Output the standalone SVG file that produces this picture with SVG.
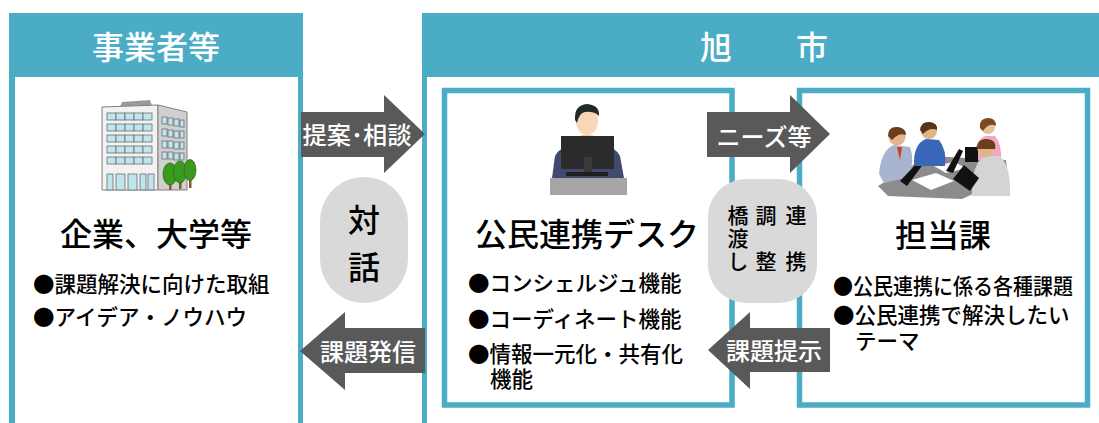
<svg xmlns="http://www.w3.org/2000/svg" width="1099" height="423" viewBox="0 0 1099 423">
  <style>
    text { font-family: "Noto Sans CJK JP", "Noto Sans", sans-serif; }
    .head { fill: #ffffff; font-size: 32px; font-weight: 500; }
    .title { fill: #000000; font-size: 32px; font-weight: 500; }
    .item { fill: #000000; font-size: 21.5px; font-weight: 500; }
    .arrow { fill: #595959; }
    .alabel { fill: #ffffff; font-size: 24px; font-weight: 500; }
    .pill { fill: #d9d9d9; }
    .plabel { fill: #000000; font-weight: 500; }
    .vert { writing-mode: vertical-rl; font-size: 21px; }
    .frame { fill: none; stroke: #4bacc6; stroke-width: 5.5; }
  </style>

  <rect width="1099" height="423" fill="#ffffff"/>

  <!-- 事業者等 column -->
  <g id="jigyosha">
    <rect x="9" y="13" width="294" height="420" fill="#4bacc6"/>
    <rect x="15" y="77" width="283" height="360" fill="#ffffff"/>
    <text class="head" x="156" y="59" text-anchor="middle">事業者等</text>
    <!-- office building -->
    <g id="building">
      <polygon points="122,102 150,100 152,106 120,107" fill="#9a9a9a"/>
      <polygon points="102,107 158,105 158,190 102,190" fill="#f2f2f2" stroke="#7f7f7f" stroke-width="1"/>
      <polygon points="158,105 187,112 187,190 158,190" fill="#d0d0d0" stroke="#7f7f7f" stroke-width="1"/>
      <g fill="#bfe6ee" stroke="#6d6d6d" stroke-width="0.8">
        <rect x="107" y="113" width="9" height="7"/><rect x="116" y="113" width="9" height="7"/><rect x="125" y="113" width="9" height="7"/><rect x="134" y="113" width="9" height="7"/><rect x="143" y="113" width="9" height="7"/>
        <rect x="107" y="124" width="9" height="7"/><rect x="116" y="124" width="9" height="7"/><rect x="125" y="124" width="9" height="7"/><rect x="134" y="124" width="9" height="7"/><rect x="143" y="124" width="9" height="7"/>
        <rect x="107" y="135" width="9" height="7"/><rect x="116" y="135" width="9" height="7"/><rect x="125" y="135" width="9" height="7"/><rect x="134" y="135" width="9" height="7"/><rect x="143" y="135" width="9" height="7"/>
        <rect x="107" y="146" width="9" height="7"/><rect x="116" y="146" width="9" height="7"/><rect x="125" y="146" width="9" height="7"/><rect x="134" y="146" width="9" height="7"/><rect x="143" y="146" width="9" height="7"/>
        <rect x="107" y="157" width="9" height="7"/><rect x="116" y="157" width="9" height="7"/><rect x="125" y="157" width="9" height="7"/><rect x="134" y="157" width="9" height="7"/><rect x="143" y="157" width="9" height="7"/>
        <rect x="107" y="174" width="6" height="16"/><rect x="116" y="174" width="9" height="16"/><rect x="128" y="174" width="9" height="16"/><rect x="140" y="174" width="6" height="16"/><rect x="148" y="174" width="6" height="16"/>
        <rect x="162" y="117" width="5" height="7"/><rect x="168" y="118" width="5" height="7"/><rect x="174" y="119" width="5" height="7"/><rect x="180" y="120" width="4" height="7"/>
        <rect x="162" y="129" width="5" height="7"/><rect x="168" y="130" width="5" height="7"/><rect x="174" y="131" width="5" height="7"/><rect x="180" y="131" width="4" height="7"/>
        <rect x="162" y="141" width="5" height="7"/><rect x="168" y="141" width="5" height="7"/><rect x="174" y="142" width="5" height="7"/><rect x="180" y="142" width="4" height="7"/>
        <rect x="162" y="152" width="5" height="7"/><rect x="168" y="152" width="5" height="7"/><rect x="174" y="153" width="5" height="7"/><rect x="180" y="153" width="4" height="7"/>
      </g>
      <g fill="#8b5a2b">
        <rect x="169" y="180" width="2.5" height="10"/><rect x="179" y="180" width="2.5" height="9"/><rect x="189" y="179" width="2.5" height="9"/>
      </g>
      <g fill="#3a9a1e" stroke="#2c6e16" stroke-width="0.8">
        <ellipse cx="170" cy="174" rx="7" ry="11"/>
        <ellipse cx="180" cy="172" rx="6.5" ry="11"/>
        <ellipse cx="190" cy="170" rx="6" ry="10.5"/>
      </g>
    </g>
    <text class="title" x="156" y="246" text-anchor="middle">企業、大学等</text>
    <text class="item" x="33" y="292">●課題解決に向けた取組</text>
    <text class="item" x="33" y="325">●アイデア・ノウハウ</text>
  </g>

  <!-- 旭市 column -->
  <g id="asahi">
    <rect x="422" y="13" width="700" height="420" fill="#4bacc6"/>
    <rect x="427" y="77" width="700" height="360" fill="#ffffff"/>
    <text class="head" x="700" y="59">旭　　市</text>
  </g>

  <!-- 公民連携デスク -->
  <g id="desk">
    <rect class="frame" x="444.5" y="90.5" width="287.5" height="314.5"/>
    <g id="desk-person">
      <path d="M552,178 L555,156 Q559,147 575,145 L600,145 Q616,147 620,156 L624,178 Z" fill="#3f4a6e"/>
      <rect x="581" y="135" width="12" height="12" fill="#f0c9a0"/>
      <ellipse cx="587" cy="121" rx="11" ry="14" fill="#f7d7b5"/>
      <path d="M575,120 Q574,105 587,104 Q600,105 599,116 Q594,111 585,112 Q579,113 577,123 Z" fill="#1f2a2a"/>
      <rect x="561" y="136" width="53" height="33" fill="#2b2b2b"/>
      <rect x="584" y="157" width="8" height="18" fill="#3a3a3a"/>
      <rect x="566" y="172" width="42" height="4" fill="#1e1e1e"/>
      <rect x="550" y="178" width="77" height="17" fill="#a6a6a6"/>
    </g>
    <text class="title" x="475" y="246">公民連携デスク</text>
    <text class="item" x="468" y="291">●コンシェルジュ機能</text>
    <text class="item" x="468" y="327">●コーディネート機能</text>
    <text class="item"><tspan x="468" y="362">●情報一元化・共有化</tspan><tspan x="490" y="387">機能</tspan></text>
  </g>

  <!-- 担当課 -->
  <g id="tantouka">
    <rect class="frame" x="799.5" y="90.5" width="288" height="314.5"/>
    <g id="meeting">
      <polygon points="878,186 928,156 1006,160 1008,178 962,199 888,196" fill="#8c8c8c"/>
      <polygon points="912,180 936,173 954,181 931,190" fill="#ffffff"/>
      <polygon points="934,166 954,162 966,168 946,173" fill="#ffffff"/>
      <!-- left man -->
      <path d="M879,174 Q881,150 894,145 L910,147 Q915,160 909,177 L884,183 Z" fill="#a9b4cf"/>
      <polygon points="897,147 902,147 900,160" fill="#d33c2b"/>
      <circle cx="897" cy="137" r="8.5" fill="#e2b48a"/>
      <path d="M888,136 Q888,126 898,127 Q906,128 906,135 Q899,132 892,140 Z" fill="#6b3e1f"/>
      <polygon points="900,181 919,161 924,163 907,186" fill="#111111"/>
      <!-- blue shirt man -->
      <path d="M914,166 Q913,144 926,139 L939,140 Q947,150 945,166 Z" fill="#3a66b8"/>
      <circle cx="929" cy="131" r="8" fill="#e2b48a"/>
      <path d="M920,130 Q921,121 930,122 Q938,123 937,130 Q930,127 923,134 Z" fill="#5a3418"/>
      <polygon points="946,171 959,149 963,151 953,173" fill="#111111"/>
      <!-- woman -->
      <path d="M974,160 Q974,141 985,136 L995,136 Q1002,144 1001,160 Z" fill="#f3a6c8"/>
      <circle cx="988" cy="127" r="7" fill="#e8c09a"/>
      <path d="M980,128 Q979,118 988,118 Q996,118 996,126 Q989,122 983,131 Z" fill="#7a4a25"/>
      <rect x="965" y="147" width="13" height="15" fill="#111111"/>
      <!-- front man -->
      <path d="M972,196 Q971,164 985,156 L999,156 Q1011,164 1010,196 Z" fill="#d4d4d4"/>
      <circle cx="986" cy="149" r="8.5" fill="#e2b48a"/>
      <path d="M977,149 Q977,138 987,139 Q997,140 995,149 Z" fill="#6b3e1f"/>
      <polygon points="953,179 964,165 979,178 970,191" fill="#111111"/>
    </g>
    <text class="title" x="943" y="247" text-anchor="middle">担当課</text>
    <text class="item" x="833" y="294" textLength="240" lengthAdjust="spacingAndGlyphs">●公民連携に係る各種課題</text>
    <text class="item"><tspan x="833" y="323">●公民連携で解決したい</tspan><tspan x="855" y="349">テーマ</tspan></text>
  </g>

  <!-- dialogue / bridging badges -->
  <g id="taiwa">
    <rect class="pill" x="320" y="177" width="88" height="126" rx="44" ry="44"/>
    <text class="plabel" x="364" y="232" font-size="32" text-anchor="middle">対</text>
    <text class="plabel" x="364" y="279" font-size="32" text-anchor="middle">話</text>
  </g>
  <g id="kakehashi">
    <rect class="pill" x="708" y="179" width="109" height="124" rx="38" ry="38"/>
    <!-- three vertical columns, read right to left -->
    <text class="plabel vert" x="796" y="205" letter-spacing="25">連携</text>
    <text class="plabel vert" x="766" y="205" letter-spacing="25">調整</text>
    <text class="plabel vert" x="738" y="205" letter-spacing="2">橋渡し</text>
  </g>

  <!-- connectors -->
  <g id="connectors">
    <polygon class="arrow" points="301,112 384,112 384,95 425,134 384,173 384,157 301,157"/>
    <text class="alabel" x="357" y="144" text-anchor="middle" textLength="109" lengthAdjust="spacingAndGlyphs">提案･相談</text>
    <polygon class="arrow" points="300,351 345,312 345,328 425,328 425,373 345,373 345,390"/>
    <text class="alabel" x="368" y="361" text-anchor="middle">課題発信</text>
    <polygon class="arrow" points="707,112 790,112 790,95 830,134 790,173 790,157 707,157"/>
    <text class="alabel" x="764" y="146" text-anchor="middle">ニーズ等</text>
    <polygon class="arrow" points="708,350 750,312 750,328 830,328 830,372 750,372 750,389"/>
    <text class="alabel" x="774" y="360" text-anchor="middle">課題提示</text>
  </g>
</svg>
